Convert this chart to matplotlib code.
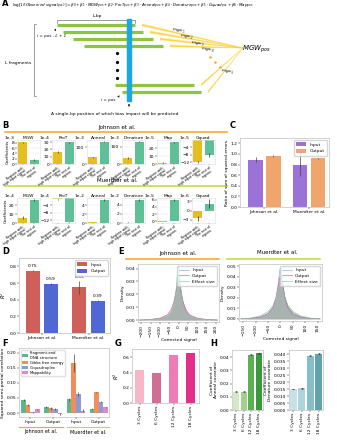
import matplotlib
matplotlib.use('Agg')
import matplotlib.pyplot as plt
from matplotlib.patches import Rectangle, Polygon
import numpy as np

plt.rcParams['font.family'] = ['DejaVu Sans']
plt.rcParams['axes.linewidth'] = 0.4
plt.rcParams['xtick.major.width'] = 0.3
plt.rcParams['ytick.major.width'] = 0.3
plt.rcParams['xtick.major.size'] = 1.2
plt.rcParams['ytick.major.size'] = 1.2
plt.rcParams['xtick.major.pad'] = 0.8
plt.rcParams['ytick.major.pad'] = 0.8
plt.rcParams['xtick.labelsize'] = 3.2
plt.rcParams['ytick.labelsize'] = 3.2
plt.rcParams['axes.edgecolor'] = '#b0b0b0'
plt.rcParams['axes.labelpad'] = 1

W, H = 337, 440
fig = plt.figure(figsize=(W / 100, H / 100), dpi=100)


def ax_px(x0, y0, x1, y1):
    return fig.add_axes([x0 / W, 1 - y1 / H, (x1 - x0) / W, (y1 - y0) / H])


ov = fig.add_axes([0, 0, 1, 1])
ov.set_xlim(0, W)
ov.set_ylim(H, 0)
ov.axis('off')

# ---------------- Panel A (diagram) ----------------
frag_start = [57, 63, 73, 84, 115, 122]
frag_end = [135, 143, 153, 163, 194, 201]
frag_row = [25, 32, 39, 46, 85, 92]
mgw_labels = ['$mgw_1$', '$mgw_2$', '$mgw_3$', '$mgw_4$', None, '$mgw_L$']
equation = (r'$\log[1/(Observed\ signal_{pos})] = \beta_0 + \beta_1 \cdot MGW_{pos} + '
            r'\beta_2 \cdot ProT_{pos} + \beta_3 \cdot Anneal_{pos} + \beta_4 \cdot Denature_{pos} + '
            r'\beta_5 \cdot Gquad_{pos} + \beta_6 \cdot Map_{pos}$')

ov.text(12, 6, equation, fontsize=2.9, va='center', ha='left')
conv = (243, 48)
for s, e, r in zip(frag_start, frag_end, frag_row):
    ov.add_patch(Polygon([(e + 7, r - 1.6), (e + 7, r + 1.6), (conv[0], conv[1] + 0.5),
                          (conv[0], conv[1] - 0.5)],
                         closed=True, color='#ffd84a', alpha=0.45, lw=0))
    ov.add_patch(Polygon([(e + 7, r - 0.7), (e + 7, r + 0.7), (conv[0], conv[1] + 0.2),
                          (conv[0], conv[1] - 0.2)],
                         closed=True, color='#f5c400', alpha=0.6, lw=0))
for s, e, r in zip(frag_start, frag_end, frag_row):
    ov.plot([s, e], [r, r], color='#8cc63f', lw=2.3, solid_capstyle='butt', zorder=3)
ov.add_patch(Rectangle((127, 19), 4, 82, color='#1aa7e4', zorder=4))
ov.annotate('', xy=(129, 101), xytext=(129, 108),
            arrowprops=dict(arrowstyle='->', lw=0.5, color='k', mutation_scale=3))
for y in [53, 62, 70, 78]:
    ov.plot(117, y, 'o', color='k', ms=1.3)
ov.plot([57, 57, 135, 135], [23, 20, 20, 23], color='#555', lw=0.4)
ov.text(97, 16, 'L-bp', fontsize=3.2, ha='center', va='center')
ov.plot([36, 34, 34, 36], [24, 24, 96, 96], color='#555', lw=0.4)
ov.text(18, 63, 'L fragments', fontsize=3.2, ha='center', va='center')
ov.text(52, 36.5, 'i = pos - L + 1', fontsize=3, ha='center', va='center', style='italic')
ov.annotate('', xy=(57, 26), xytext=(54, 33),
            arrowprops=dict(arrowstyle='->', lw=0.4, color='k', mutation_scale=3))
ov.text(108, 100, 'i = pos', fontsize=3, ha='center', va='center', style='italic')
ov.annotate('', xy=(121, 93), xytext=(117, 99),
            arrowprops=dict(arrowstyle='->', lw=0.4, color='k', mutation_scale=3))
lab_pos = [(178, 31), (186, 37), (197, 44), (207, 50), None, (227, 72)]
for lab, p in zip(mgw_labels, lab_pos):
    if lab:
        ov.text(p[0], p[1], lab, fontsize=3, ha='center', va='center', rotation=-8)
for (x, y) in [(210, 57), (215, 62), (220, 67)]:
    ov.plot(x, y, 'o', color='#f5a623', ms=0.8)
ov.text(256, 49, '$MGW_{pos}$', fontsize=5, ha='center', va='center')
ov.text(115, 114, 'A single-bp position of which bias impact will be predicted', fontsize=3.2,
        ha='center', va='center')

# ---------------- Panel B ----------------
YEL, GRN = '#e3bf1f', '#5fbf97'
b_groups = ['Regions with\nhigh input signal', 'The rest of\nregions']
b_names = ['MGW', 'ProT', 'Anneal', 'Denature', 'Map', 'Gquad']
b_scale_j = ['1e-3', '1e-4', '1e-3', '1e-3', '1e-5', '1e-5']
b_vals_j = [[8.2, 1.5], [17, 30], [40, 135], [35, 130], [1.5, 27], [-12, -8]]
b_errs_j = [[0.15, 0.3], [1.5, 0.5], [3, 2], [3, 2], [0.4, 0.8], [0.5, 1.2]]
b_ticks_j = [[0, 2, 4, 6, 8], [0, 10, 20, 30], [0, 100], [0, 100], [0, 10, 20], [-12, -8, -4]]
b_lims_j = [(0, 9), (0, 33), (0, 145), (0, 140), (0, 30), (-13, 0)]
b_scale_m = ['1e-4', '1e-4', '1e-2', '1e-2', '1e-5', '1e-6']
b_vals_m = [[6, 26], [-0.8, -13], [0.2, 5.2], [0.1, 5.0], [-0.2, 6], [-2.5, 2.2]]
b_errs_m = [[1.5, 0.8], [0.4, 0.3], [0.05, 0.2], [0.05, 0.2], [0.1, 0.2], [0.8, 1.5]]
b_ticks_m = [[0, 10, 20], [-12, -8, -4], [0, 2, 4], [0, 2, 4], [0, 2, 4, 6], [-3, 0, 3]]
b_lims_m = [(0, 28), (-13.5, 0), (0, 5.6), (0, 5.5), (-0.5, 6.5), (-4, 4)]
b_lefts = [17, 52, 87, 122, 157, 192]


def bpanel(x0, y0, y1, name, scale, vals, errs, ticks, lim, first):
    ax = ax_px(x0, y0, x0 + 23, y1)
    ax.bar([0, 1], vals, width=0.8, color=[YEL, GRN], yerr=errs,
           error_kw=dict(lw=0.5, ecolor='#333333', capsize=0))
    ax.set_xlim(-0.5, 1.5)
    ax.set_ylim(*lim)
    ax.set_yticks(ticks)
    ax.yaxis.grid(True, color='#e6e6e6', lw=0.3)
    ax.set_axisbelow(True)
    ax.set_xticks([0, 1])
    ax.set_xticklabels(b_groups, rotation=35, ha='right', rotation_mode='anchor', fontsize=2.35,
                       linespacing=0.85)
    ax.tick_params(axis='x', pad=0.5, length=0.8)
    ax.set_title(name, fontsize=3.2, pad=1)
    ax.text(-0.1, 1.02, scale, transform=ax.transAxes, fontsize=3.2, ha='right', va='bottom')
    for sp in ax.spines.values():
        sp.set_color('#dddddd')
    if first:
        ax.set_ylabel('Coefficients', fontsize=3)
    return ax


for i in range(6):
    bpanel(b_lefts[i], 140, 164, b_names[i], b_scale_j[i], b_vals_j[i], b_errs_j[i],
           b_ticks_j[i], b_lims_j[i], i == 0)
    bpanel(b_lefts[i], 198, 223, b_names[i], b_scale_m[i], b_vals_m[i], b_errs_m[i],
           b_ticks_m[i], b_lims_m[i], i == 0)

ORANGE_LINE, GREEN_LINE = '#f5a623', '#c3d83a'
ov.text(117, 127, 'Johnson et al.', fontsize=4, ha='center', va='center')
ov.plot([5, 227], [132, 132], color=ORANGE_LINE, lw=1.1)
ov.text(117, 181, 'Muerdter et al.', fontsize=4, ha='center', va='center')
ov.plot([5, 227], [186, 186], color=GREEN_LINE, lw=1.1)

# ---------------- Panel C ----------------
datasets = ['Johnson et al.', 'Muerdter et al.']
c_input = [0.89, 0.80]
c_input_err = [0.05, 0.22]
c_output = [0.96, 0.92]
c_output_err = [0.015, 0.01]
axc = ax_px(240, 138, 329, 207)
xc = np.arange(len(datasets))
axc.bar(xc - 0.2, c_input, 0.33, color='#9b72d8', label='Input', yerr=c_input_err,
        error_kw=dict(lw=0.5, ecolor='#444'))
axc.bar(xc + 0.2, c_output, 0.33, color='#f0a56c', label='Output', yerr=c_output_err,
        error_kw=dict(lw=0.5, ecolor='#444'))
axc.set_xlim(-0.55, 1.45)
axc.set_ylim(0, 1.3)
axc.set_yticks(np.round(np.arange(0, 1.21, 0.2), 1))
axc.set_xticks(xc)
axc.set_xticklabels(datasets)
axc.set_ylabel('Ratio of sum of squared errors', fontsize=3.2)
axc.legend(fontsize=3.2, loc='upper right', frameon=True, handlelength=2.2, handleheight=0.9,
           borderpad=0.5, labelspacing=0.5, edgecolor='#cccccc')

# ---------------- Panel D ----------------
d_input = [0.75, 0.55]
d_input_err = [0.01, 0.08]
d_output = [0.59, 0.39]
d_output_err = [0.015, 0.008]
axd = ax_px(19, 258, 110, 333)
xd = np.arange(len(datasets))
axd.bar(xd - 0.195, d_input, 0.3, color='#cf5f5a', label='Input', yerr=d_input_err,
        error_kw=dict(lw=0.5, ecolor='#444'))
axd.bar(xd + 0.195, d_output, 0.3, color='#4f68d4', label='Output', yerr=d_output_err,
        error_kw=dict(lw=0.5, ecolor='#444'))
for xi, v, e in zip(xd - 0.195, d_input, d_input_err):
    axd.text(xi, v + e + 0.02, f'{v:.2f}', fontsize=3.2, ha='center', va='bottom')
for xi, v, e in zip(xd + 0.195, d_output, d_output_err):
    axd.text(xi, v + e + 0.02, f'{v:.2f}', fontsize=3.2, ha='center', va='bottom')
axd.set_xlim(-0.49, 1.46)
axd.set_ylim(0, 0.9)
axd.set_yticks(np.round(np.arange(0, 0.81, 0.2), 1))
axd.set_xticks(xd)
axd.set_xticklabels(datasets)
axd.set_ylabel('$R^2$', fontsize=3.5)
axd.legend(fontsize=3.2, loc='upper right', frameon=True, handlelength=2.2, handleheight=0.9,
           borderpad=0.5, labelspacing=0.5, edgecolor='#cccccc')

# ---------------- Panel E ----------------
ej_x = [-210, -150, -100, -60, -40, -25, -15, -8, -3, 0, 3, 8, 15, 25, 40, 60, 100, 150, 210]
ej_input = [0, 0.0003, 0.001, 0.003, 0.006, 0.012, 0.020, 0.028, 0.034, 0.035, 0.034, 0.028,
            0.020, 0.012, 0.006, 0.003, 0.001, 0.0003, 0]
ej_output = [0, 0.0005, 0.0015, 0.004, 0.008, 0.014, 0.021, 0.026, 0.029, 0.030, 0.029, 0.026,
             0.021, 0.014, 0.008, 0.004, 0.0015, 0.0005, 0]
ej_effect = [0, 0.0003, 0.001, 0.002, 0.005, 0.011, 0.020, 0.032, 0.040, 0.042, 0.040, 0.032,
             0.020, 0.011, 0.005, 0.002, 0.001, 0.0003, 0]
em_x = [-160, -120, -80, -50, -30, -18, -10, -5, -2, 0, 2, 5, 10, 18, 30, 50, 80, 120, 160]
em_input = [0, 0.0005, 0.0015, 0.004, 0.010, 0.020, 0.032, 0.042, 0.047, 0.048, 0.047, 0.042,
            0.032, 0.020, 0.010, 0.004, 0.0015, 0.0005, 0]
em_output = [0, 0.0005, 0.002, 0.005, 0.011, 0.020, 0.030, 0.037, 0.040, 0.041, 0.040, 0.037,
             0.030, 0.020, 0.011, 0.005, 0.002, 0.0005, 0]
em_effect = [0, 0.0008, 0.003, 0.007, 0.013, 0.020, 0.027, 0.032, 0.035, 0.036, 0.035, 0.032,
             0.027, 0.020, 0.013, 0.007, 0.003, 0.0008, 0]
E_COLS = {'Input': '#6fb0e8', 'Output': '#e0567a', 'Effect size': '#7fcba0'}


def epanel(box, xs, series, xticks, ylim, yticks):
    ax = ax_px(*box)
    for name, ys in series:
        ax.fill_between(xs, ys, color=E_COLS[name], alpha=0.45, lw=0)
        ax.plot(xs, ys, color=E_COLS[name], lw=0.5, alpha=0.9, label=name)
    ax.set_xlim(xs[0] - 8, xs[-1] + 8)
    ax.set_ylim(*ylim)
    ax.set_yticks(yticks)
    ax.set_xticks(xticks)
    ax.tick_params(axis='x', labelrotation=90)
    ax.set_xlabel('Corrected signal', fontsize=3.2)
    ax.set_ylabel('Density', fontsize=3.2)
    ax.legend(fontsize=3.2, loc='upper right', frameon=True, handlelength=2.2, borderpad=0.4,
              labelspacing=0.4, edgecolor='#cccccc')
    return ax


epanel((138, 264, 219, 322), ej_x, [('Input', ej_input), ('Output', ej_output), ('Effect size', ej_effect)],
       [-200, -150, -100, -50, 0, 50, 100, 150, 200], (-0.0015, 0.0435),
       [0.00, 0.01, 0.02, 0.03, 0.04])
epanel((239, 264, 322, 321), em_x, [('Input', em_input), ('Output', em_output), ('Effect size', em_effect)],
       [-150, -100, -50, 0, 50, 100, 150], (-0.002, 0.052),
       [0.00, 0.01, 0.02, 0.03, 0.04, 0.05])
ov.text(178, 253, 'Johnson et al.', fontsize=4, ha='center', va='center')
ov.plot([126, 219], [259, 259], color=ORANGE_LINE, lw=1.1)
ov.text(277, 253, 'Muerdter et al.', fontsize=4, ha='center', va='center')
ov.plot([227, 320], [259, 259], color=GREEN_LINE, lw=1.1)

# ---------------- Panel F ----------------
f_groups = ['Input', 'Output', 'Input', 'Output']
f_series = ['Fragment-end\nDNA structure', 'Gibbs free energy', 'G-quadruplex', 'Mappability']
f_colors = ['#5cb88a', '#f28e5b', '#8c9bd3', '#e688c8']
f_vals = [[0.042, 0.020, 0.045, 0.015],
          [0.026, 0.016, 0.165, 0.068],
          [0.002, 0.013, 0.063, 0.038],
          [0.012, -0.003, 0.008, 0.019]]
f_errs = [[0.003, 0.004, 0.006, 0.001],
          [0.004, 0.005, 0.030, 0.003],
          [0.002, 0.004, 0.008, 0.003],
          [0.002, 0.003, 0.005, 0.002]]
axf = ax_px(19, 348, 109, 417)
xf = np.arange(len(f_groups))
for k in range(4):
    axf.bar(xf + (k - 1.5) * 0.2, f_vals[k], 0.2, color=f_colors[k], label=f_series[k],
            yerr=f_errs[k], error_kw=dict(lw=0.5, ecolor='#444'))
axf.set_xlim(-0.5, 3.45)
axf.set_ylim(-0.013, 0.215)
axf.set_yticks([0.00, 0.05, 0.10, 0.15, 0.20])
axf.set_xticks(xf)
axf.set_xticklabels(f_groups)
axf.set_ylabel('Squared semi-partial correlation', fontsize=3.2)
leg = axf.legend(fontsize=2.7, loc='upper left', frameon=True, handlelength=1.6, handleheight=0.8,
                 borderpad=0.35, labelspacing=0.3, handletextpad=0.4, edgecolor='#cccccc',
                 framealpha=0.6)
ov.plot([19, 63], [427, 427], color=ORANGE_LINE, lw=0.8)
ov.text(41, 432, 'Johnson et al.', fontsize=3.5, ha='center', va='center')
ov.plot([67, 109], [427, 427], color=GREEN_LINE, lw=0.8)
ov.text(88, 432, 'Muerdter et al.', fontsize=3.5, ha='center', va='center')

# ---------------- Panel G ----------------
cycles = ['3 Cycles', '6 Cycles', '12 Cycles', '18 Cycles']
g_vals = [0.43, 0.40, 0.63, 0.66]
g_colors = ['#f7b7c9', '#d06f95', '#ee7db7', '#e0308a']
axg = ax_px(132, 349, 199, 403)
xg = np.arange(len(cycles))
axg.bar(xg, g_vals, 0.55, color=g_colors)
axg.set_xlim(-0.45, 3.5)
axg.set_ylim(0, 0.71)
axg.set_yticks([0.0, 0.2, 0.4, 0.6])
axg.set_xticks(xg)
axg.set_xticklabels(cycles, rotation=90)
axg.set_ylabel('$R^2$', fontsize=3.5)

# ---------------- Panel H ----------------
h_anneal = [0.014, 0.014, 0.042, 0.043]
h_anneal_err = [0.0003, 0.0003, 0.0004, 0.0004]
h_denature = [0.0152, 0.0155, 0.0390, 0.0403]
h_denature_err = [0.0002, 0.0002, 0.0003, 0.0003]
h_anneal_colors = ['#d4e8c6', '#a3cf8f', '#5db052', '#3a993c']
h_denature_colors = ['#c8e1e6', '#aed3da', '#86bfca', '#5fa3ad']

axh1 = ax_px(232, 350, 263, 410)
axh1.bar(xg, h_anneal, 0.8, color=h_anneal_colors, yerr=h_anneal_err,
         error_kw=dict(lw=0.5, ecolor='#333', capsize=0.8, capthick=0.4))
axh1.set_xlim(-0.5, 3.5)
axh1.set_ylim(0, 0.0455)
axh1.set_yticks([0.00, 0.01, 0.02, 0.03, 0.04])
axh1.set_xticks(xg)
axh1.set_xticklabels(cycles, rotation=90)
axh1.set_ylabel('Coefficient of\nAnneal covariate', fontsize=3.2)

axh2 = ax_px(289, 350, 323, 410)
axh2.bar(xg, h_denature, 0.8, color=h_denature_colors, yerr=h_denature_err,
         error_kw=dict(lw=0.5, ecolor='#333', capsize=0.8, capthick=0.4))
axh2.set_xlim(-0.5, 3.5)
axh2.set_ylim(0, 0.043)
axh2.set_yticks(np.round(np.arange(0, 0.0401, 0.005), 3))
axh2.yaxis.set_major_formatter(matplotlib.ticker.FormatStrFormatter('%.3f'))
axh2.set_xticks(xg)
axh2.set_xticklabels(cycles, rotation=90)
axh2.set_ylabel('Coefficient of\nDenature covariate', fontsize=3.2)

# ---------------- Panel letters ----------------
for letter, (x, y) in zip('ABCDEFGH', [(2, 3), (2, 125), (230, 125), (2, 252), (118, 252),
                                         (2, 344), (115, 344), (210, 344)]):
    ov.text(x, y, letter, fontsize=6, fontweight='bold', ha='left', va='center')

fig.savefig('out.png', dpi=100)
